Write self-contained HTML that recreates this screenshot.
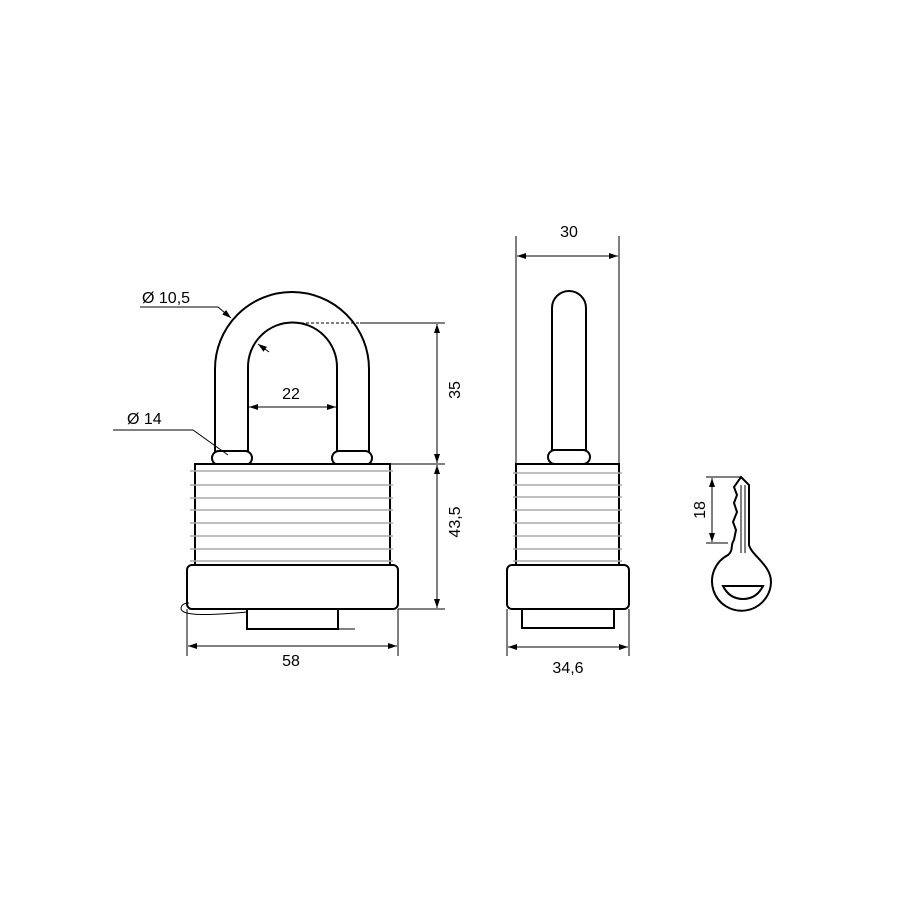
<!DOCTYPE html>
<html><head><style>html,body{margin:0;padding:0;background:#fff}</style></head><body>
<svg width="900" height="900" viewBox="0 0 900 900" xmlns="http://www.w3.org/2000/svg" font-family="Liberation Sans, sans-serif">
<defs>
<marker id="a" markerWidth="10" markerHeight="8" refX="9" refY="4" orient="auto-start-reverse" markerUnits="userSpaceOnUse"><path d="M0,1 L9,4 L0,7 Z" fill="#000"/></marker>
</defs>
<g fill="#fff" stroke="#000" stroke-width="2">
<!-- left shackle -->
<path d="M215,452 L215,369 A77,77 0 0 1 369,369 L369,452 L337,452 L337,367 A44.5,44.5 0 0 0 248,367 L248,452 Z"/>
<rect x="212" y="451" width="40" height="14" rx="7"/>
<rect x="332" y="451" width="40" height="14" rx="7"/>
<rect x="195" y="464" width="195" height="101"/>
<rect x="247" y="609" width="91" height="20"/>
<rect x="187" y="565" width="211" height="44" rx="5"/>
<!-- right -->
<path d="M552,450 L552,308 A17,17 0 0 1 586,308 L586,450 Z"/>
<rect x="548" y="450" width="42" height="14" rx="7"/>
<rect x="516" y="464" width="103" height="101"/>
<rect x="522" y="609" width="92" height="19"/>
<rect x="507" y="565" width="122" height="44" rx="5"/>
<!-- key -->
<path d="M741,477 L749,485 L749,545 C752,556 771,565 771,582 A29.5,29.5 0 1 1 728,555 C734,550 730,545 734,540 L736,530 L733,522 L737,512 L734,503 L737,495 L734,487 Z"/>
<path d="M723,586 L763,586 C758,596 750,599 743,599 C736,599 728,596 723,586 Z"/>
</g>
<g stroke="#000" stroke-width="1" fill="none">
<line x1="741" y1="485" x2="741" y2="553"/><line x1="745" y1="485" x2="745" y2="553"/>
<path d="M247,612 C215,615 180,617 181,608 C182,603 187,603 189,603"/>
<line x1="338" y1="629" x2="355" y2="629"/>
</g>
<g stroke="#aaa" stroke-width="1.5">
<line x1="190" y1="471" x2="393" y2="471"/><line x1="190" y1="485" x2="393" y2="485"/><line x1="190" y1="498" x2="393" y2="498"/><line x1="190" y1="510" x2="393" y2="510"/><line x1="190" y1="523" x2="393" y2="523"/><line x1="190" y1="536" x2="393" y2="536"/><line x1="190" y1="549" x2="393" y2="549"/><line x1="190" y1="561" x2="393" y2="561"/>
<line x1="513" y1="473" x2="622" y2="473"/><line x1="513" y1="485" x2="622" y2="485"/><line x1="513" y1="497" x2="622" y2="497"/><line x1="513" y1="510" x2="622" y2="510"/><line x1="513" y1="523" x2="622" y2="523"/><line x1="513" y1="536" x2="622" y2="536"/><line x1="513" y1="549" x2="622" y2="549"/><line x1="513" y1="561" x2="622" y2="561"/>
</g>
<g stroke="#000" stroke-width="1" fill="none">
<!-- 58 -->
<line x1="187" y1="609" x2="187" y2="656"/><line x1="398" y1="609" x2="398" y2="656"/>
<line x1="188" y1="646" x2="397" y2="646" marker-start="url(#a)" marker-end="url(#a)"/>
<!-- 35 / 43.5 -->
<line x1="360" y1="323" x2="445" y2="323"/><line x1="296" y1="323" x2="360" y2="323" stroke-dasharray="3,2"/>
<line x1="390" y1="464" x2="445" y2="464"/><line x1="398" y1="609" x2="445" y2="609"/>
<line x1="437" y1="324" x2="437" y2="463" marker-start="url(#a)" marker-end="url(#a)"/>
<line x1="437" y1="465" x2="437" y2="608" marker-start="url(#a)" marker-end="url(#a)"/>
<!-- 22 -->
<line x1="249" y1="407" x2="336" y2="407" marker-start="url(#a)" marker-end="url(#a)"/>
<!-- leaders -->
<path d="M140,307 L218,307 L231,318" marker-end="url(#a)"/>
<path d="M113,430 L193,430 L228,455"/>
<line x1="269" y1="352" x2="258" y2="344" marker-end="url(#a)"/>
<!-- 30 -->
<line x1="516" y1="236" x2="516" y2="464"/><line x1="619" y1="236" x2="619" y2="464"/>
<line x1="517" y1="256" x2="618" y2="256" marker-start="url(#a)" marker-end="url(#a)"/>
<!-- 34.6 -->
<line x1="507" y1="609" x2="507" y2="656"/><line x1="629" y1="609" x2="629" y2="656"/>
<line x1="508" y1="647" x2="628" y2="647" marker-start="url(#a)" marker-end="url(#a)"/>
<!-- 18 -->
<line x1="706" y1="477" x2="741" y2="477"/><line x1="706" y1="543" x2="728" y2="543"/>
<line x1="712" y1="478" x2="712" y2="542" marker-start="url(#a)" marker-end="url(#a)"/>
</g>
<g font-size="16" fill="#000">
<text x="291" y="666" text-anchor="middle">58</text>
<text x="291" y="399" text-anchor="middle">22</text>
<text x="569" y="237" text-anchor="middle">30</text>
<text x="568" y="673" text-anchor="middle">34,6</text>
<text x="142" y="303">Ø 10,5</text>
<text x="127" y="424">Ø 14</text>
<text transform="translate(460,390) rotate(-90)" text-anchor="middle">35</text>
<text transform="translate(460,522) rotate(-90)" text-anchor="middle">43,5</text>
<text transform="translate(705,510) rotate(-90)" text-anchor="middle">18</text>
</g>
</svg>
</body></html>
